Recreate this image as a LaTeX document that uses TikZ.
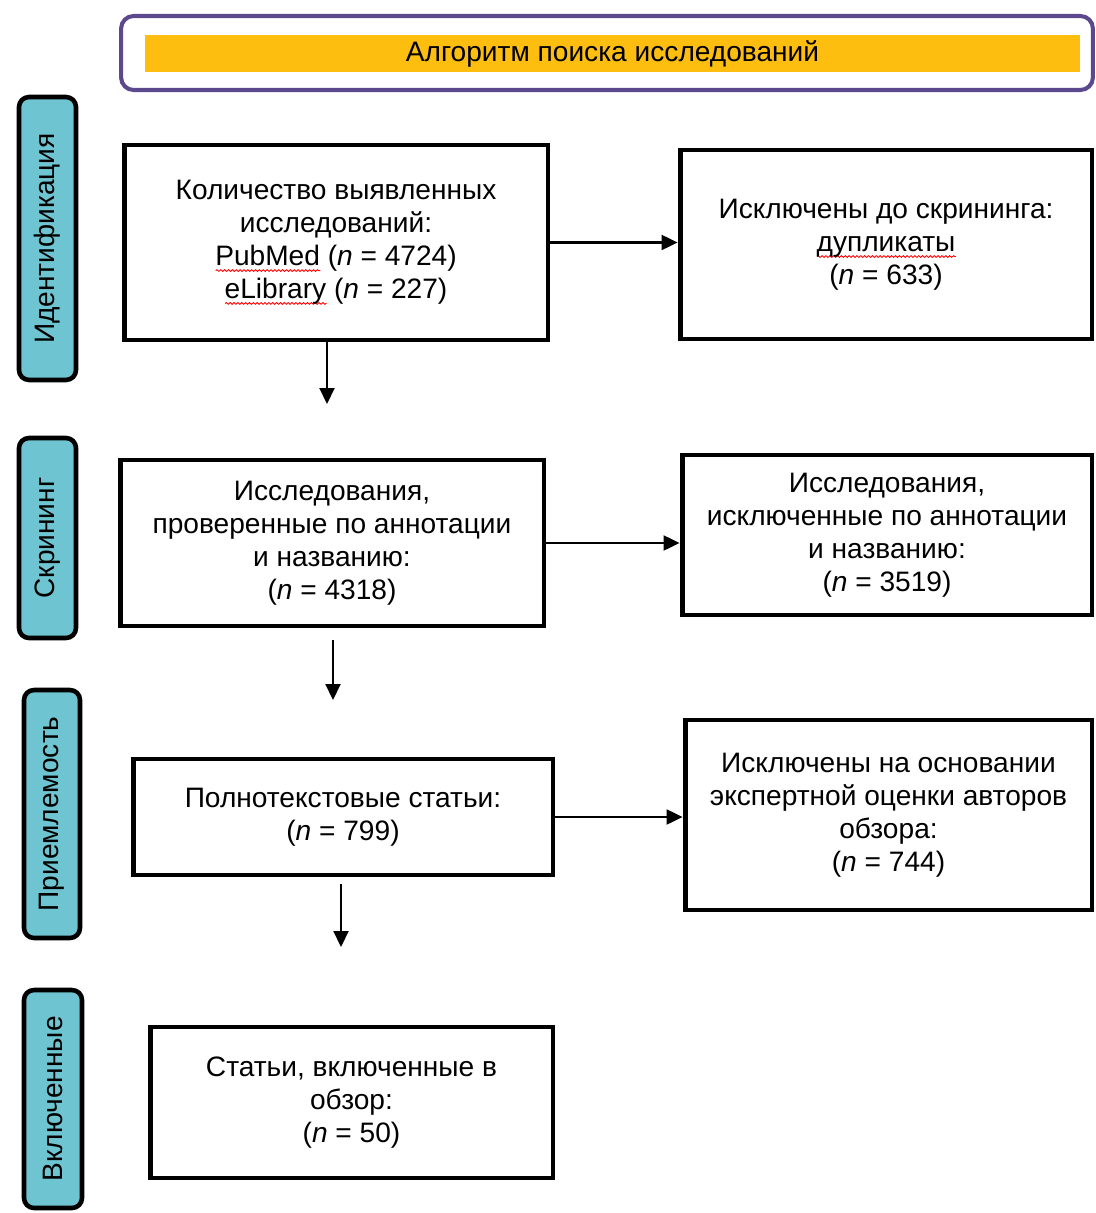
\documentclass[tikz,border=0pt]{standalone}
\usepackage{fontspec}
\setmainfont{Liberation Sans}
\usetikzlibrary{arrows.meta,decorations.pathmorphing}
\definecolor{labfill}{RGB}{110,196,208}
\definecolor{titlepurple}{RGB}{92,72,140}
\definecolor{titleorange}{RGB}{253,190,16}
\newsavebox\wavebox
\newcommand\redwave[1]{\sbox\wavebox{#1}\rlap{\tikz[x=1pt,y=1pt,baseline=0pt]{\draw[red,line width=0.5pt,decorate,decoration={snake,amplitude=0.5pt,segment length=2.2pt}] (0,-3) -- (\the\wd\wavebox,-3);}}\usebox\wavebox}
\begin{document}
\begin{tikzpicture}[x=0.02cm,y=-0.02cm,
  box/.style={draw=black,line width=2.8pt,fill=white,align=center,inner sep=0pt,font=\fontsize{16}{18.7}\selectfont},
  lab/.style={draw=black,line width=2.6pt,fill=labfill,rounded corners=0.2cm,rotate=90,inner sep=0pt,font=\fontsize{16}{19}\selectfont},
  arr/.style={line width=1.2pt,-{Triangle[length=0.32cm,width=0.3cm]}}]
\fill[white] (0,0) rectangle (1095,1213);
\useasboundingbox (0,0) rectangle (1095,1213);

% title
\node[draw=titlepurple,line width=2.3pt,rounded corners=0.25cm,minimum width=19.44cm,minimum height=1.48cm,inner sep=0pt] (frame) at (607,53) {};
\node[fill=titleorange,minimum width=18.7cm,minimum height=0.74cm,inner sep=0pt,font=\fontsize{16}{19}\selectfont] (title) at (612.5,53.5) {Алгоритм поиска исследований};

% stage labels
\node[lab,minimum width=5.66cm,minimum height=1.14cm] (l1) at (47.5,238.5) {Идентификация};
\node[lab,minimum width=4.0cm,minimum height=1.14cm] (l2) at (47.5,538) {Скрининг};
\node[lab,minimum width=4.96cm,minimum height=1.12cm] (l3) at (52,814) {Приемлемость};
\node[lab,minimum width=4.36cm,minimum height=1.16cm] (l4) at (53,1099) {Включенные};

% boxes
\node[box,minimum width=8.48cm,minimum height=3.9cm] (b1) at (336,242.5)
  {Количество выявленных\\исследований:\\\redwave{PubMed} (\textit{n} = 4724)\\\redwave{eLibrary} (\textit{n} = 227)};
\node[box,minimum width=8.24cm,minimum height=3.78cm] (b2) at (886,244.5)
  {Исключены до скрининга:\\\redwave{дупликаты}\\(\textit{n} = 633)};
\node[box,minimum width=8.48cm,minimum height=3.32cm] (b3) at (332,543)
  {Исследования,\\проверенные по аннотации\\и названию:\\(\textit{n} = 4318)};
\node[box,minimum width=8.2cm,minimum height=3.2cm] (b4) at (887,535)
  {Исследования,\\исключенные по аннотации\\и названию:\\(\textit{n} = 3519)};
\node[box,minimum width=8.4cm,minimum height=2.32cm] (b5) at (343,817)
  {Полнотекстовые статьи:\\(\textit{n} = 799)};
\node[box,minimum width=8.14cm,minimum height=3.8cm] (b6) at (888.5,815)
  {Исключены на основании\\экспертной оценки авторов\\обзора:\\(\textit{n} = 744)};
\node[box,minimum width=8.06cm,minimum height=3.02cm] (b7) at (351.5,1102.5)
  {Статьи, включенные в\\обзор:\\(\textit{n} = 50)};

% connectors
\coordinate (d1) at (327,404);
\coordinate (d2) at (333,700);
\coordinate (d3) at (341,947);
\draw[arr] (b1.east) -- (b1.east -| b2.west);
\draw[arr] (b1.south -| d1) -- (d1);
\draw[arr] (b3.east) -- (b3.east -| b4.west);
\draw[arr] ([yshift=-0.24cm]b3.south -| d2) -- (d2);
\draw[arr] (b5.east) -- (b5.east -| b6.west);
\draw[arr] ([yshift=-0.14cm]b5.south -| d3) -- (d3);
\end{tikzpicture}
\end{document}
